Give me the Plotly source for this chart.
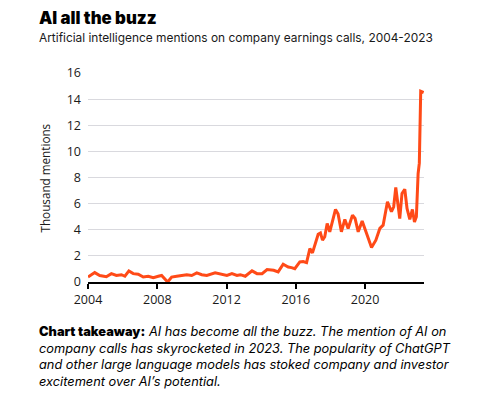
import plotly.graph_objects as go

# Decimal-year positions and values (thousand mentions)
years = [2004.0, 2004.39, 2004.68, 2005.06, 2005.35, 2005.64, 2005.93, 2006.13, 2006.36, 2006.61,
         2006.9, 2007.19, 2007.48, 2007.77, 2008.06, 2008.25, 2008.6, 2008.83, 2009.12, 2009.41,
         2009.7, 2009.99, 2010.28, 2010.57, 2010.86, 2011.34, 2011.63, 2012.02, 2012.31, 2012.6,
         2012.79, 2013.08, 2013.47, 2013.76, 2014.05, 2014.34, 2014.72, 2014.98, 2015.27, 2015.56,
         2015.75, 2015.94, 2016.23, 2016.42, 2016.62, 2016.81, 2016.96, 2017.1, 2017.29, 2017.42,
         2017.54, 2017.67, 2017.81, 2017.96, 2018.12, 2018.29, 2018.44, 2018.63, 2018.83, 2019.02,
         2019.27, 2019.42, 2019.6, 2019.83, 2020.08, 2020.37, 2020.62, 2020.85, 2021.04, 2021.15,
         2021.29, 2021.52, 2021.65, 2021.77, 2022.0, 2022.13, 2022.29, 2022.42, 2022.58, 2022.73,
         2022.85, 2022.96, 2023.06, 2023.13, 2023.21, 2023.38]
mentions = [0.38, 0.72, 0.5, 0.4, 0.64, 0.5, 0.56, 0.44, 0.85, 0.64,
            0.6, 0.38, 0.44, 0.33, 0.44, 0.5, 0.0, 0.38, 0.44, 0.5,
            0.56, 0.5, 0.7, 0.56, 0.5, 0.7, 0.6, 0.5, 0.64, 0.5,
            0.56, 0.44, 0.85, 0.64, 0.64, 0.95, 0.9, 0.77, 1.36, 1.15,
            1.1, 1.02, 1.54, 1.56, 1.48, 2.56, 2.23, 2.9, 3.66, 3.76,
            3.2, 3.46, 4.48, 3.84, 4.74, 5.56, 5.2, 3.84, 4.79, 4.1,
            5.12, 4.86, 3.84, 4.66, 3.74, 2.64, 3.2, 4.1, 4.35, 5.25,
            6.14, 5.38, 5.76, 7.24, 4.86, 6.78, 7.1, 5.63, 4.79, 5.56,
            4.6, 5.0, 8.3, 9.1, 14.6, 14.5]

x_ticks = [2004, 2008, 2012, 2016, 2020]
x_tick_labels = ["2004", "2008", "2012", "2016", "2020"]
y_ticks = [0, 2, 4, 6, 8, 10, 12, 14, 16]

FONT = "Open Sans"
BODY = "Inter"
TXT = "#1a1a1a"

fig = go.Figure()
fig.add_trace(go.Scatter(x=years, y=mentions, mode="lines",
                         line=dict(color="#FF4A17", width=3), cliponaxis=False,
                         hoverinfo="skip"))

fig.update_layout(
    width=481, height=405,
    margin=dict(l=80, r=65, t=65, b=131),
    paper_bgcolor="white", plot_bgcolor="white",
    showlegend=False,
    font=dict(family=FONT, color=TXT, size=11),
    xaxis=dict(range=[2004, 2023.4], tickvals=x_ticks, ticktext=x_tick_labels,
               showgrid=False, zeroline=False, showline=True, linecolor="black", linewidth=2,
               ticks="outside", ticklen=5, tickwidth=1.5, tickcolor="black",
               tickfont=dict(family=FONT, size=12.5, color=TXT)),
    yaxis=dict(range=[0, 16], tickvals=y_ticks, showgrid=True, gridcolor="#d9d9de", gridwidth=1,
               zeroline=False, showline=False, ticks="", ticklabelstandoff=6,
               tickfont=dict(family=FONT, size=12.5, color=TXT)),
    annotations=[
        dict(text="AI all the buzz", xref="paper", yref="paper", x=-0.152, y=1.263,
             xanchor="left", yanchor="middle", showarrow=False,
             font=dict(family=BODY, size=16.8, color="black", weight=900)),
        dict(text="Artificial intelligence mentions on company earnings calls, 2004-2023",
             xref="paper", yref="paper", x=-0.152, y=1.172, xanchor="left", yanchor="middle",
             showarrow=False, font=dict(family=BODY, size=11.9, color=TXT)),
        dict(text="Thousand mentions", xref="paper", yref="paper", x=-0.128, y=0.5,
             xanchor="center", yanchor="middle", textangle=-90, showarrow=False,
             font=dict(family=FONT, size=11.7, color=TXT)),
        dict(text="<span style='font-weight:900'>Chart takeaway:</span> <i>AI has become all the buzz. The mention of AI on<br>"
                  "company calls has skyrocketed in 2023. The popularity of ChatGPT<br>"
                  "and other large language models has stoked company and investor<br>"
                  "excitement over AI’s potential.</i>",
             xref="paper", yref="paper", x=-0.152, y=-0.19, xanchor="left", yanchor="top",
             align="left", showarrow=False, font=dict(family=BODY, size=12.8, color="black")),
    ],
)

fig.write_html("out.html")
